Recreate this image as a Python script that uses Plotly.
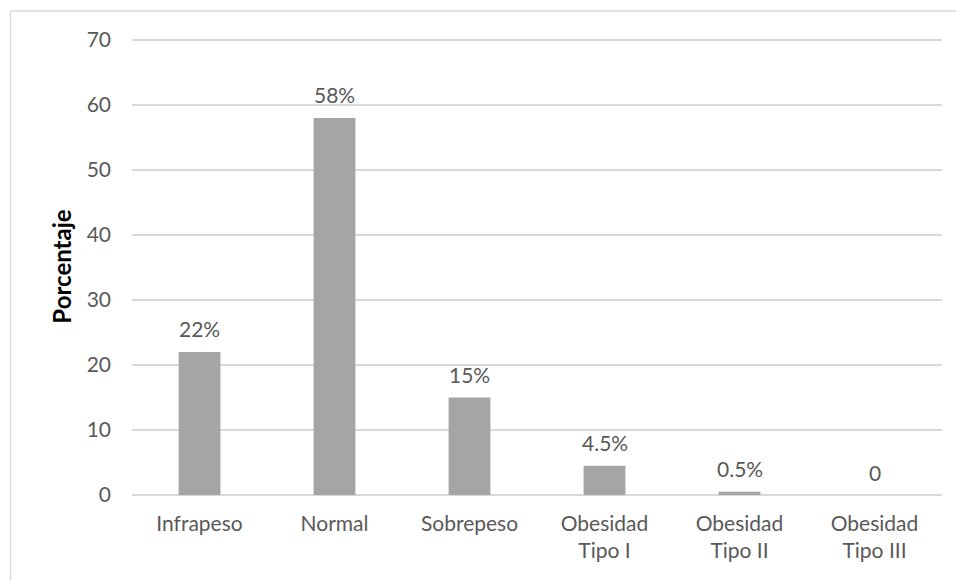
import plotly.graph_objects as go

categories = ["Infrapeso", "Normal", "Sobrepeso", "Obesidad<br>Tipo I", "Obesidad<br>Tipo II", "Obesidad<br>Tipo III"]
values = [22, 58, 15, 4.5, 0.5, 0]
labels = ["22%", "58%", "15%", "4.5%", "0.5%", "0"]
y_ticks = [0, 10, 20, 30, 40, 50, 60, 70]

FONT = "Lato"
TXT = "#595959"
FS = 21

fig = go.Figure()
fig.add_trace(go.Bar(
    x=categories, y=values,
    marker=dict(color="#a5a5a5", line=dict(width=0)),
    width=0.31, hoverinfo="skip",
))

for c, v, t in zip(categories, values, labels):
    fig.add_annotation(x=c, y=v, text=t, showarrow=False, yanchor="middle", yshift=23,
                       font=dict(family=FONT, size=FS, color=TXT))

W, H = 956, 580
L, R, T, B = 132, 14, 38, 85
pw, ph = W - L - R, H - T - B

def px(x):
    return (x - L) / pw

def py(y):
    return (H - B - y) / ph

# outer chart border (top and left visible)
fig.add_shape(type="line", xref="paper", yref="paper", x0=px(10.5), x1=px(960), y0=py(11), y1=py(11),
              line=dict(color="#d9d9d9", width=1.5))
fig.add_shape(type="line", xref="paper", yref="paper", x0=px(10.5), x1=px(10.5), y0=py(11), y1=py(585),
              line=dict(color="#d9d9d9", width=1.5))

fig.update_layout(
    width=W, height=H,
    margin=dict(l=L, r=R, t=T, b=B),
    paper_bgcolor="white", plot_bgcolor="white",
    showlegend=False,
    font=dict(family=FONT, size=FS, color=TXT),
    xaxis=dict(showgrid=False, showline=False, zeroline=False, ticks="",
               tickfont=dict(family=FONT, size=FS, color=TXT), ticklabelstandoff=14),
    yaxis=dict(range=[0, 70.3], tickvals=y_ticks, showgrid=True, gridcolor="#d9d9d9", gridwidth=1.5,
               zeroline=True, zerolinecolor="#d9d9d9", zerolinewidth=1.5, showline=False, ticks="",
               tickfont=dict(family=FONT, size=FS, color=TXT), ticklabelstandoff=20,
               title=dict(text="<b>Porcentaje</b>", font=dict(family=FONT, size=24, color="black"), standoff=8)),
)

fig.write_html("out.html")
